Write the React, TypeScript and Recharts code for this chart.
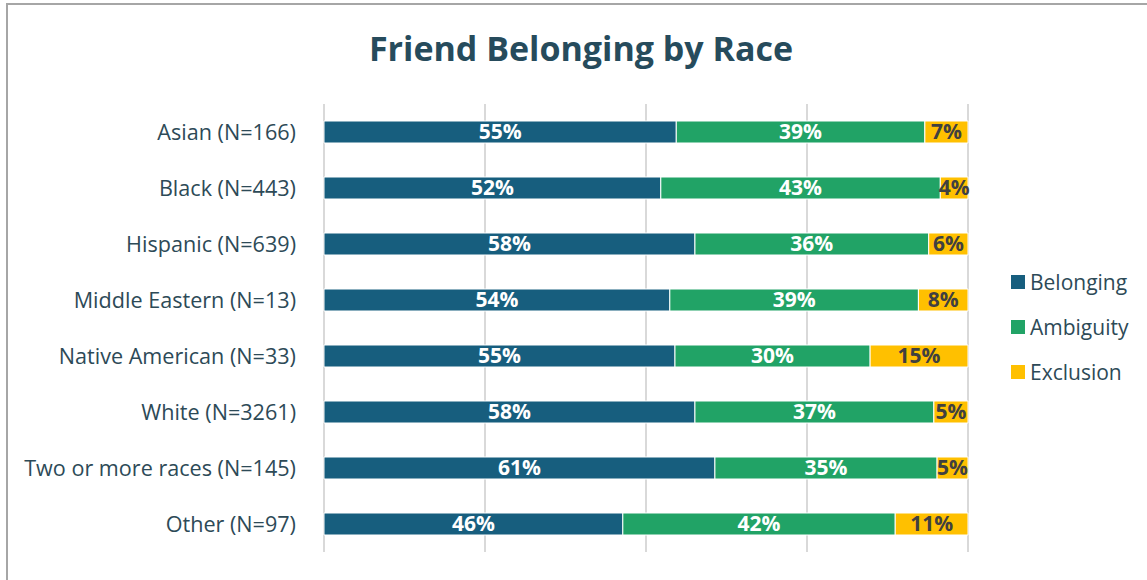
import { BarChart, Bar, XAxis, YAxis, CartesianGrid, LabelList } from 'recharts';

const races = [
  'Asian (N=166)',
  'Black (N=443)',
  'Hispanic (N=639)',
  'Middle Eastern (N=13)',
  'Native American (N=33)',
  'White (N=3261)',
  'Two or more races (N=145)',
  'Other (N=97)',
];
const belonging = [54.7, 52.3, 57.6, 53.7, 54.5, 57.6, 60.7, 46.4];
const ambiguity = [38.6, 43.4, 36.3, 38.6, 30.3, 37.1, 34.5, 42.3];
const exclusion = [6.7, 4.3, 6.1, 7.7, 15.2, 5.3, 4.8, 11.3];
const xTicks = [0, 25, 50, 75, 100];

const data = races.map((race, i) => ({
  race,
  Belonging: belonging[i],
  Ambiguity: ambiguity[i],
  Exclusion: exclusion[i],
}));

const font = '"Open Sans", sans-serif';
const textColor = '#2D4A57';
const pct = (v: any) => `${Math.round(Number(v))}%`;

const legendItems = [
  { name: 'Belonging', color: '#175E7E' },
  { name: 'Ambiguity', color: '#21A366' },
  { name: 'Exclusion', color: '#FFC000' },
];

function LegendBox() {
  return (
    <div style={{ position: 'absolute', left: 1011, top: 259, fontFamily: font, fontSize: 21, color: textColor }}>
      {legendItems.map((it) => (
        <div key={it.name} style={{ display: 'flex', alignItems: 'center', height: 45 }}>
          <span style={{ width: 14, height: 14, background: it.color, marginRight: 5, display: 'inline-block' }} />
          {it.name}
        </div>
      ))}
    </div>
  );
}

export default function App() {
  return (
    <div style={{ position: 'absolute', left: 0, top: 0, width: 1147, height: 580, overflow: 'hidden', background: '#fff' }}>
      <div
        style={{
          position: 'absolute',
          left: 6,
          top: 3,
          width: 1200,
          height: 700,
          borderTop: '2px solid #A6A6A6',
          borderLeft: '2px solid #A6A6A6',
        }}
      />
      <div
        style={{
          position: 'absolute',
          top: 25,
          width: 1162,
          textAlign: 'center',
          fontFamily: font,
          fontWeight: 700,
          fontSize: 34,
          color: '#264B5C',
        }}
      >
        Friend Belonging by Race
      </div>
      <div style={{ position: 'absolute', left: 0, top: 0 }}>
        <BarChart
          width={1147}
          height={580}
          data={data}
          layout="vertical"
          barSize={22}
          margin={{ top: 104, right: 179, bottom: 28, left: 0 }}
        >
          <CartesianGrid horizontal={false} stroke="#D9D9D9" strokeWidth={2} />
          <XAxis type="number" domain={[0, 100]} ticks={xTicks} hide />
          <YAxis
            type="category"
            dataKey="race"
            width={324}
            axisLine={false}
            tickLine={false}
            tickMargin={22}
            tick={{ fill: textColor, fontSize: 21.6, fontFamily: font }}
          />
          <Bar dataKey="Belonging" stackId="a" fill="#175E7E" stroke="#fff" strokeWidth={1} isAnimationActive={false}>
            <LabelList dataKey="Belonging" position="center" formatter={pct} fill="#fff" fontWeight={700} fontSize={21} fontFamily={font} />
          </Bar>
          <Bar dataKey="Ambiguity" stackId="a" fill="#21A366" stroke="#fff" strokeWidth={1} isAnimationActive={false}>
            <LabelList dataKey="Ambiguity" position="center" formatter={pct} fill="#fff" fontWeight={700} fontSize={21} fontFamily={font} />
          </Bar>
          <Bar dataKey="Exclusion" stackId="a" fill="#FFC000" stroke="#fff" strokeWidth={1} isAnimationActive={false}>
            <LabelList dataKey="Exclusion" position="center" formatter={pct} fill="#404040" fontWeight={700} fontSize={21} fontFamily={font} />
          </Bar>
        </BarChart>
      </div>
      <LegendBox />
    </div>
  );
}
